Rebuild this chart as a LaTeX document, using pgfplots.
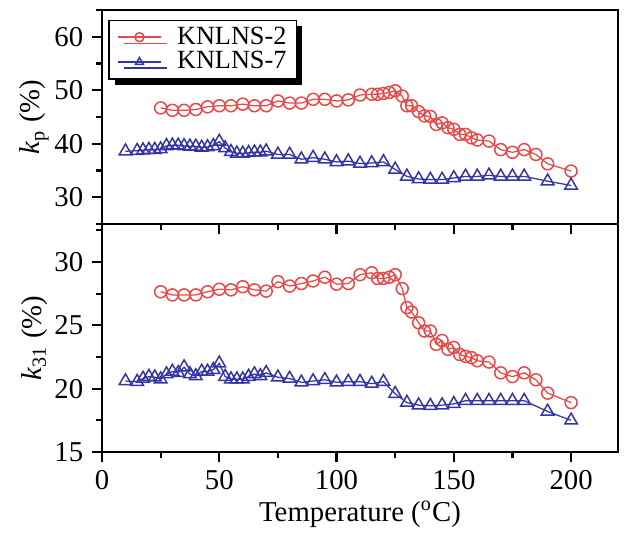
\documentclass[border=0pt]{standalone}
\usepackage{fontspec}
\setmainfont{Liberation Serif}
\usepackage{pgfplots}
\pgfplotsset{compat=1.18}
\usetikzlibrary{shadows}
\definecolor{cred}{RGB}{232,72,72}
\definecolor{cblue}{RGB}{52,52,165}
\begin{document}
\begin{tikzpicture}
\pgfplotsset{
  every axis/.append style={font=\fontsize{11.5}{13}\selectfont},
  common/.style={
    scale only axis, width=206.4pt,
    xmin=0, xmax=220,
    xtick={0,50,100,150,200}, minor xtick={25,75,125,175},
    tick align=outside, tick pos=left,
    axis line style={line width=0.9pt},
    major tick length=4pt, minor tick length=2.4pt,
    every tick/.style={line width=0.9pt,black},
    /pgf/number format/assume math mode=true,
    ylabel style={at={(axis description cs:-0.131,0.5)},anchor=center},
  },
  redp/.style={color=cred, line width=0.5pt, mark=o, mark size=2.4pt, mark options={fill=white, line width=0.6pt}},
  bluep/.style={color=cblue, line width=0.5pt, mark=triangle, mark size=2.9pt, mark options={fill=white, line width=0.6pt}},
}
% bottom panel
\begin{axis}[common, name=bot, height=91.2pt,
  ymin=15, ymax=33, ytick={15,20,25,30}, minor ytick={17.5,22.5,27.5,32.5},
  xlabel={Temperature (\textsuperscript{o}C)},
  xlabel style={at={(axis description cs:0.5,-0.275)},anchor=center},
  ylabel={\textit{k}\textsubscript{31} (\%)}]
\addplot[redp] coordinates {
(25,27.65)(30,27.4)(35,27.4)(40,27.4)(45,27.65)(50,27.85)(55,27.8)(60,28.05)(65,27.8)(70,27.7)
(75,28.45)(80,28.1)(85,28.3)(90,28.5)(95,28.8)(100,28.25)(105,28.3)(110,29.0)
(115,29.15)(117.5,28.7)(120,28.7)(122.5,28.8)(125,29.0)
(128,27.9)(130,26.4)(132,26.05)(135,25.2)(137.5,24.55)(140,24.55)(142.5,23.5)(145,23.8)(147.5,23.1)
(150,23.25)(152.5,22.7)(155,22.55)(157.5,22.45)(160,22.2)
(165,22.1)(170,21.25)(175,20.95)(180,21.25)(185,20.7)(190,19.65)(200,18.9)};
\addplot[bluep] coordinates {
(10,20.6)(15,20.55)(17.5,20.8)(20,20.95)(22.5,20.9)(25,20.75)(27.5,21.15)(30,21.35)(32.5,21.25)
(35,21.7)(37.5,21.15)(40,21.0)(42.5,21.35)(45,21.35)(47.5,21.5)(50,22.0)(52.5,20.95)(55,20.75)
(57.5,20.75)(60,20.75)(62.5,20.95)(65,21.15)(67.5,21.0)(70,21.25)(75,20.9)(80,20.8)(85,20.5)
(90,20.6)(95,20.7)(100,20.5)(105,20.55)(110,20.55)(115,20.4)(120,20.55)(125,19.6)(130,18.9)
(135,18.7)(140,18.65)(145,18.7)(150,18.8)(155,19.05)(160,19.05)(165,19.05)(170,19.05)(175,19.05)
(180,19.05)(190,18.2)(200,17.5)};
\end{axis}
% top panel
\begin{axis}[common, name=top, height=85.6pt, at={(bot.north west)}, anchor=south west,
  ymin=25, ymax=65, ytick={30,40,50,60}, minor ytick={25,35,45,55,65},
  xticklabels={},
  ylabel={\textit{k}\textsubscript{p} (\%)},
  legend cell align=left,
  legend style={at={(axis description cs:0.012,0.955)}, anchor=north west,
    draw=black, line width=0.6pt, fill=white,
    drop shadow={shadow xshift=2.4pt, shadow yshift=-2.4pt, fill=black, opacity=1},
    inner xsep=2pt, inner ysep=0.5pt, row sep=-2.5pt,
    font=\fontsize{10.5}{12}\selectfont},
  legend image code/.code={\draw[mark repeat=2,mark phase=2,line width=0.7pt,mark size=1.8pt] plot coordinates {(0cm,0cm) (0.3cm,0cm) (0.6cm,0cm)};
    \path (-0.05cm,0cm) (0.75cm,0cm);},
  ]
\addplot[redp] coordinates {
(25,46.7)(30,46.25)(35,46.25)(40,46.4)(45,46.9)(50,47.1)(55,47.1)(60,47.4)(65,47.1)(70,47.1)
(75,48.0)(80,47.6)(85,47.6)(90,48.3)(95,48.3)(100,48.0)(105,48.2)(110,49.1)
(115,49.25)(117.5,49.25)(120,49.4)(122.5,49.6)(125,49.9)
(128,48.9)(130,47.1)(132,47.1)(135,46.0)(137.5,45.2)(140,45.1)(142.5,43.6)(145,43.9)(147.5,43.0)
(150,42.7)(152.5,41.75)(155,41.75)(157.5,41.1)(160,40.7)
(165,40.5)(170,38.9)(175,38.4)(180,38.9)(185,38.0)(190,36.25)(200,34.9)};
\addlegendentry{KNLNS-2}
\addplot[bluep] coordinates {
(10,38.6)(15,38.7)(17.5,38.8)(20,38.9)(22.5,38.9)(25,39.0)(27.5,39.6)(30,39.7)(32.5,39.7)
(35,39.6)(37.5,39.5)(40,39.5)(42.5,39.3)(45,39.4)(47.5,39.6)(50,40.4)(52.5,39.2)(55,38.5)
(57.5,38.2)(60,38.2)(62.5,38.3)(65,38.4)(67.5,38.4)(70,38.6)(75,38.0)(80,38.0)(85,37.1)
(90,37.4)(95,37.1)(100,36.6)(105,36.75)(110,36.3)(115,36.4)(120,36.6)(125,35.2)(130,33.9)
(135,33.4)(140,33.3)(145,33.3)(150,33.6)(155,33.9)(160,33.9)(165,34.1)(170,33.9)(175,33.9)
(180,33.9)(190,33.0)(200,32.2)};
\addlegendentry{KNLNS-7}
\end{axis}
\path (top.north east) ++(7.6pt,4pt) coordinate (bbne);
\path[use as bounding box] (bot.south west) ++(-40.8pt,-30.5pt) rectangle (bbne);
\end{tikzpicture}
\end{document}
